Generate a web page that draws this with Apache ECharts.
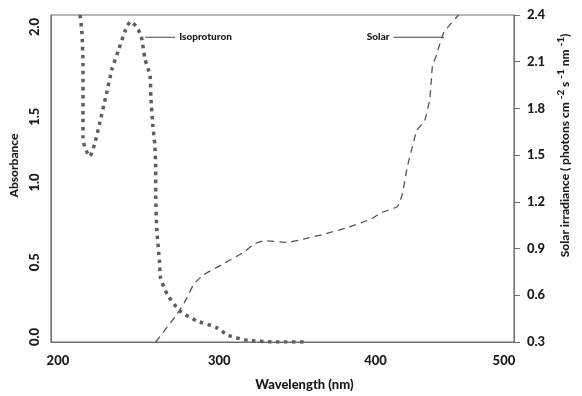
<!DOCTYPE html>
<html>
<head>
<meta charset="utf-8">
<script src="https://cdn.jsdelivr.net/npm/echarts@6/dist/echarts.min.js"></script>
<style>
html,body{margin:0;padding:0;background:#fff;}
#chart{width:582px;height:396px;}
</style>
</head>
<body>
<div id="chart"></div>
<script>
// Wavelength ticks (nm)
var xTicks = [200, 300, 400, 500];
// Isoproturon absorbance spectrum
var isoWavelength = [218.9, 220.1, 220.8, 220.8, 220.8, 222.0, 225.2, 228.3, 231.4, 235.8, 239.6, 244.0, 248.4, 251.6, 255.3, 258.5, 261.0, 264.2, 264.8, 266.0, 267.3, 267.9, 267.9, 268.6, 270.4, 271.1, 275.5, 283.6, 294.3, 306.9, 315.1, 327.7, 346.5, 365.0];
var isoAbsorbance = [2.00, 1.89, 1.69, 1.39, 1.25, 1.19, 1.135, 1.21, 1.33, 1.51, 1.67, 1.79, 1.91, 1.96, 1.93, 1.87, 1.73, 1.63, 1.49, 1.33, 1.21, 1.05, 0.91, 0.69, 0.49, 0.39, 0.29, 0.19, 0.13, 0.09, 0.04, 0.01, 0.0, 0.0];
// Solar irradiance spectrum
var solarWavelength = [267.9, 281.8, 288.0, 292.5, 298.7, 311.3, 323.9, 332.0, 338.4, 352.8, 363.5, 376.0, 390.6, 407.5, 413.8, 424.5, 427.7, 430.8, 434.6, 437.1, 442.1, 445.3, 446.5, 447.2, 449.7, 454.7, 464.2];
var solarIrradiance = [0.30, 0.48, 0.58, 0.67, 0.73, 0.80, 0.87, 0.93, 0.95, 0.94, 0.96, 0.99, 1.03, 1.09, 1.13, 1.17, 1.25, 1.42, 1.57, 1.66, 1.72, 1.85, 1.98, 2.07, 2.14, 2.29, 2.40];
var seriesNames = ['Isoproturon', 'Solar'];

function zip(a, b) { return a.map(function (v, i) { return [v, b[i]]; }); }

var FONT = 'Lato';
var W = 900;
var axisColor = '#6e6e6e';
var textColor = '#1a1a1a';

var chart = echarts.init(document.getElementById('chart'), null, {renderer: 'canvas'});

function lbl(pad) {
  return {fontFamily: FONT, fontWeight: W, fontSize: 13, color: textColor, padding: pad};
}
var xRich = {a: lbl([0, 0, 0, 14]), b: lbl([0, 0, 0, 28]), c: lbl([0, 0, 0, 32]), d: lbl([0, 20, 0, 0])};
var xKeys = {200: 'a', 300: 'b', 400: 'c', 500: 'd'};
// rotated left labels: right padding shifts text down, left padding shifts it up
var yRich = {p0: lbl([0, 0, 0, 10]), p1: lbl([0, 4, 0, 0]), p2: lbl([0, 8, 0, 0]), p3: lbl([0, 40, 0, 0]), p4: lbl([0, 24, 0, 0])};

var option = {
  animation: false,
  backgroundColor: '#fff',
  grid: {left: 50, right: 55, top: 15, bottom: 48, show: true, borderColor: axisColor, borderWidth: 1},
  xAxis: {
    type: 'value', min: xTicks[0], max: xTicks[xTicks.length - 1], interval: 100,
    name: 'Wavelength (nm)', nameLocation: 'middle', nameGap: 36,
    nameTextStyle: {fontFamily: FONT, fontWeight: W, fontSize: 13, color: textColor, padding: [0, 0, 0, 44]},
    axisLine: {show: true, lineStyle: {color: axisColor, width: 1}},
    axisTick: {show: false},
    splitLine: {show: false},
    axisLabel: {
      margin: 12,
      formatter: function (v) { return '{' + (xKeys[v] || 'a') + '|' + v + '}'; },
      rich: xRich
    }
  },
  yAxis: [{
    type: 'value', min: 0, max: 2.0, interval: 0.5, position: 'left',
    name: 'Absorbance', nameLocation: 'middle', nameGap: 28, nameRotate: 90,
    nameTextStyle: {fontFamily: FONT, fontWeight: W, fontSize: 12, color: textColor, padding: [0, 0, 0, 26]},
    axisLine: {show: true, lineStyle: {color: axisColor, width: 1}},
    axisTick: {show: false},
    splitLine: {show: false},
    axisLabel: {
      rotate: 90, margin: 10,
      formatter: function (v) { return '{p' + Math.round(v * 2) + '|' + v.toFixed(1) + '}'; },
      rich: yRich
    }
  }, {
    type: 'value', min: 0.3, max: 2.4, interval: 0.3, position: 'right',
    name: 'Solar irradiance ( photons cm {sup|-2} s {sup|-1} nm {sup|-1})',
    nameLocation: 'middle', nameGap: 40, nameRotate: 90,
    nameTextStyle: {
      fontFamily: FONT, fontWeight: W, fontSize: 12, color: textColor, lineHeight: 18,
      padding: [0, 0, 0, 66],
      rich: {sup: {fontFamily: FONT, fontWeight: W, fontSize: 10, color: textColor, verticalAlign: 'top', lineHeight: 18}}
    },
    axisLine: {show: true, lineStyle: {color: axisColor, width: 1}},
    axisTick: {show: true, inside: false, length: 6, lineStyle: {color: axisColor, width: 1}},
    splitLine: {show: false},
    axisLabel: {
      margin: 13,
      fontFamily: FONT, fontWeight: W, fontSize: 13, color: textColor,
      formatter: function (v) { return v.toFixed(1); }
    }
  }],
  series: [{
    name: seriesNames[0], type: 'line', yAxisIndex: 0, showSymbol: false, symbol: 'none',
    smooth: 0.2,
    data: zip(isoWavelength, isoAbsorbance),
    lineStyle: {color: '#5e5e5e', width: 3.5, type: [3.5, 4.5], cap: 'butt'}
  }, {
    name: seriesNames[1], type: 'line', yAxisIndex: 1, showSymbol: false, symbol: 'none',
    smooth: 0.15,
    data: zip(solarWavelength, solarIrradiance),
    lineStyle: {color: '#555555', width: 1.3, type: [7, 5]}
  }]
};
chart.setOption(option);

// Annotation anchors in data coordinates
var isoLabelY = 1.864, isoLineX = [261, 280.5];
var solLabelY = 2.257, solLineX = [422, 454.7];
var p1 = chart.convertToPixel({xAxisIndex: 0, yAxisIndex: 0}, [isoLineX[0], isoLabelY]);
var p2 = chart.convertToPixel({xAxisIndex: 0, yAxisIndex: 0}, [isoLineX[1], isoLabelY]);
var s1 = chart.convertToPixel({xAxisIndex: 0, yAxisIndex: 1}, [solLineX[0], solLabelY]);
var s2 = chart.convertToPixel({xAxisIndex: 0, yAxisIndex: 1}, [solLineX[1], solLabelY]);
chart.setOption({
  graphic: [
    {type: 'line', shape: {x1: p1[0], y1: p1[1], x2: p2[0], y2: p2[1]}, style: {stroke: '#444', lineWidth: 1}},
    {type: 'text', x: p2[0] + 4, y: p2[1], style: {text: seriesNames[0], fontFamily: FONT, fontWeight: W, fontSize: 10, fill: textColor, textAlign: 'left', textVerticalAlign: 'middle'}},
    {type: 'line', shape: {x1: s1[0], y1: s1[1], x2: s2[0], y2: s2[1]}, style: {stroke: '#444', lineWidth: 1}},
    {type: 'text', x: s1[0] - 4, y: s1[1], style: {text: seriesNames[1], fontFamily: FONT, fontWeight: W, fontSize: 10, fill: textColor, textAlign: 'right', textVerticalAlign: 'middle'}}
  ]
});
</script>
</body>
</html>
